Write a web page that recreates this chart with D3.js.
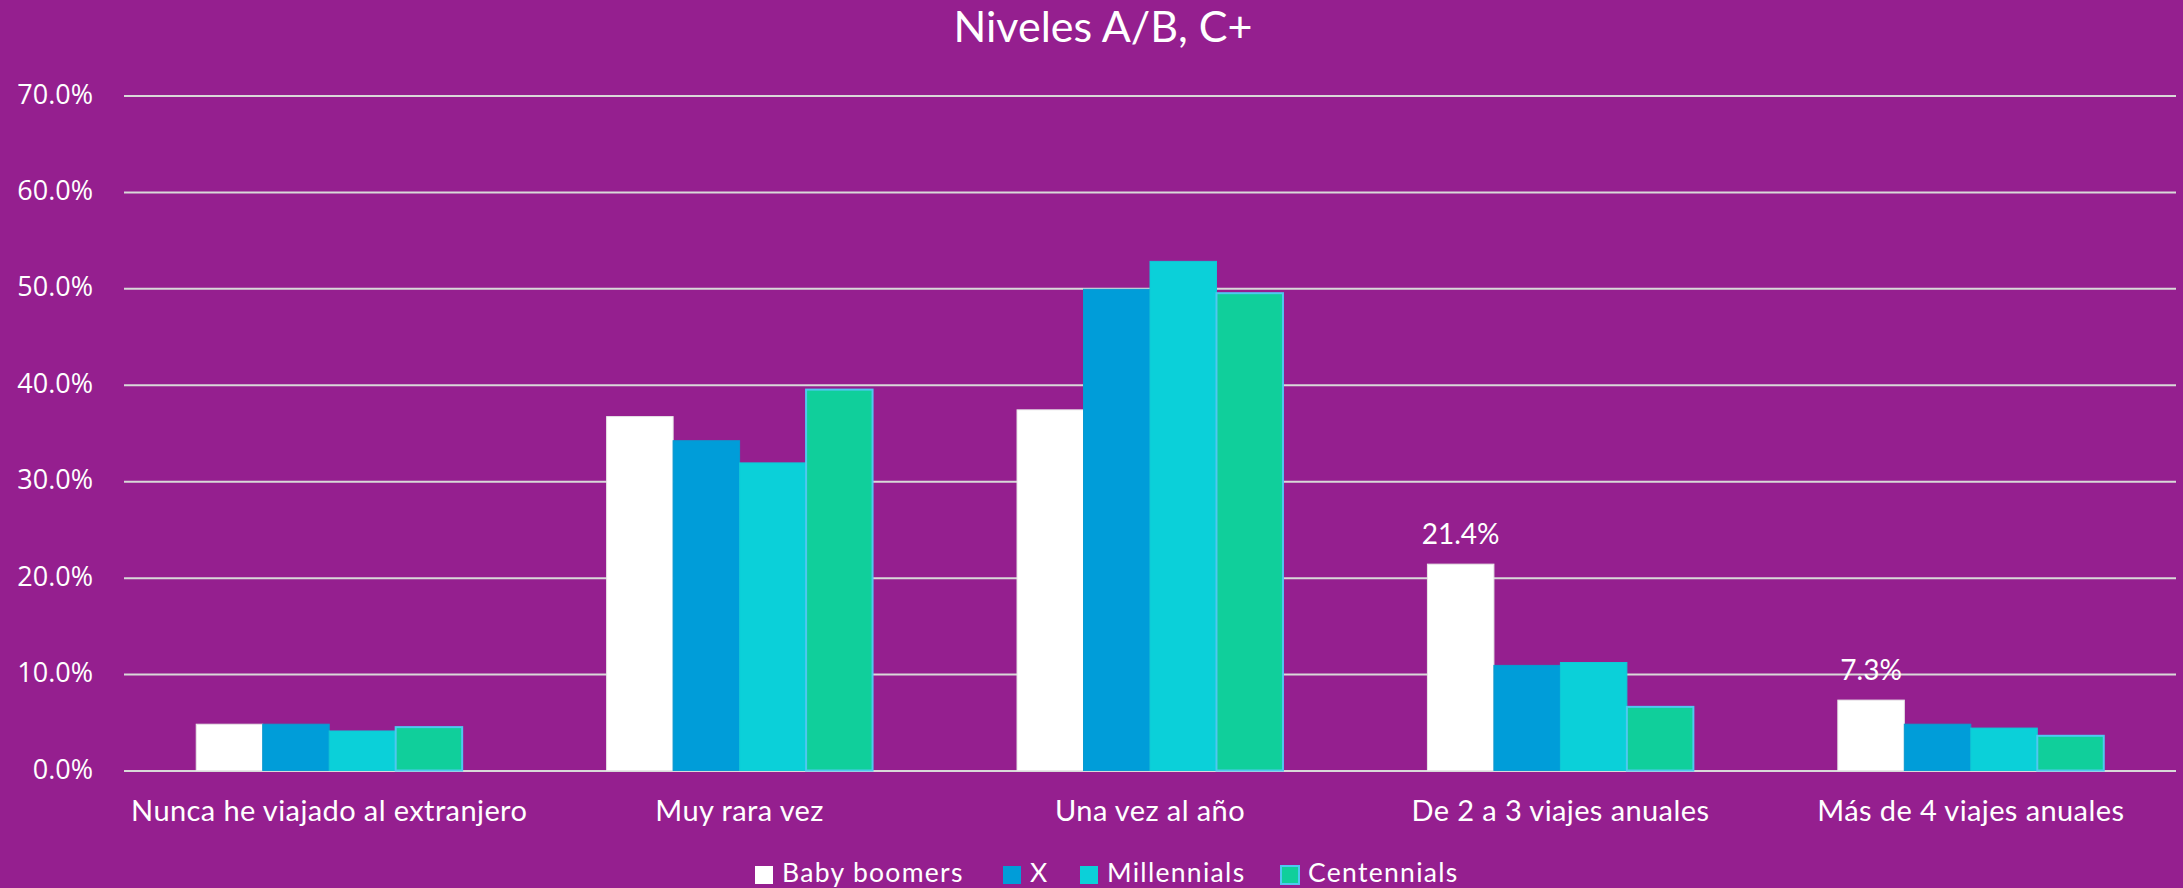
<!DOCTYPE html>
<html>
<head>
<meta charset="utf-8">
<script src="https://cdn.jsdelivr.net/npm/d3@7"></script>
<style>
  html, body { margin: 0; padding: 0; background: #951F8F; }
  svg { display: block; }
</style>
</head>
<body>
<svg id="chart" width="2183" height="888"></svg>
<script>
const title = "Niveles A/B, C+";
const categories = ["Nunca he viajado al extranjero", "Muy rara vez", "Una vez al año", "De 2 a 3 viajes anuales", "Más de 4 viajes anuales"];
const seriesNames = ["Baby boomers", "X", "Millennials", "Centennials"];
const babyBoomers = [4.8, 36.7, 37.4, 21.4, 7.3];
const genX = [4.8, 34.2, 49.9, 10.9, 4.8];
const millennials = [4.1, 31.9, 52.8, 11.2, 4.4];
const centennials = [4.5, 39.5, 49.5, 6.6, 3.6];
const yTicks = [0, 10, 20, 30, 40, 50, 60, 70];
const labelledPoints = [["Baby boomers", "De 2 a 3 viajes anuales"], ["Baby boomers", "Más de 4 viajes anuales"]];

const seriesValues = [babyBoomers, genX, millennials, centennials];
const colors = ["#FFFFFF", "#009DD9", "#0BD0D9", "#10CF9B"];
const strokes = ["#E8E8E8", "#0A9AD0", "#10C8D8", "#4FC8F0"];

const svg = d3.select("#chart");
const W = 2183, H = 888;
const m = { left: 124, right: 2183 - 2176, top: 95.5, bottom: 888 - 770.5 };

svg.append("rect").attr("width", W).attr("height", H).attr("fill", "#951F8F");

const y = d3.scaleLinear().domain([0, 70]).range([770.5, 95.5]);
const x0 = d3.scaleBand().domain(categories).range([m.left, W - m.right]).paddingInner(0.352).paddingOuter(0.176);
const x1 = d3.scaleBand().domain(seriesNames).range([0, x0.bandwidth()]);

// gridlines
const yAxis = d3.axisLeft(y).tickValues(yTicks).tickSize(-(W - m.right - m.left)).tickPadding(31)
  .tickFormat(d => d.toFixed(1) + "%");
const gy = svg.append("g").attr("transform", `translate(${m.left},0)`).call(yAxis);
gy.select(".domain").remove();
gy.selectAll(".tick line").attr("stroke", "#D9D9D9").attr("stroke-width", 2);
gy.selectAll(".tick text").attr("fill", "#FFFFFF").attr("font-family", "'Open Sans', sans-serif")
  .attr("font-size", 27).attr("dy", "0.28em");

// bars
const data = [];
categories.forEach((c, i) => seriesNames.forEach((s, j) => data.push({ c, s, j, v: seriesValues[j][i] })));
svg.append("g").selectAll("rect").data(data).join("rect")
  .attr("x", d => x0(d.c) + x1(d.s))
  .attr("width", x1.bandwidth())
  .attr("y", d => y(d.v))
  .attr("height", d => y(0) - y(d.v))
  .attr("fill", d => colors[d.j])
  .attr("stroke", d => strokes[d.j])
  .attr("stroke-width", d => d.j === 3 ? 2 : 1);

// data labels
svg.append("g").selectAll("text").data(labelledPoints).join("text")
  .attr("x", d => x0(d[1]) + x1(d[0]) + x1.bandwidth() / 2)
  .attr("y", d => y(seriesValues[seriesNames.indexOf(d[0])][categories.indexOf(d[1])]) - 20)
  .attr("text-anchor", "middle")
  .attr("fill", "#FFFFFF").attr("font-family", "Lato, sans-serif").attr("font-size", 28)
  .text(d => seriesValues[seriesNames.indexOf(d[0])][categories.indexOf(d[1])].toFixed(1) + "%");

// x axis labels
const xAxis = d3.axisBottom(x0).tickSize(0).tickPadding(0);
const gx = svg.append("g").attr("transform", `translate(0,${y(0)})`).call(xAxis);
gx.select(".domain").remove();
gx.selectAll(".tick text").attr("fill", "#FFFFFF").attr("font-family", "Lato, sans-serif")
  .attr("font-size", 29).attr("letter-spacing", 0.4).attr("dy", null).attr("y", 50.5);

// title
svg.append("text").attr("x", 1103).attr("y", 42).attr("text-anchor", "middle")
  .attr("fill", "#FFFFFF").attr("font-family", "Lato, sans-serif").attr("font-size", 43).text(title);

// legend
const legendX = [755, 1003, 1080, 1281];
const lg = svg.append("g").selectAll("g").data(seriesNames).join("g")
  .attr("transform", (d, i) => `translate(${legendX[i]},0)`);
lg.append("rect").attr("x", 0).attr("y", 866).attr("width", 18).attr("height", 18)
  .attr("fill", (d, i) => colors[i]).attr("stroke", (d, i) => i === 3 ? "#4FC8F0" : "none").attr("stroke-width", 2);
lg.append("text").attr("x", 27).attr("y", 882).attr("fill", "#FFFFFF")
  .attr("font-family", "Lato, sans-serif").attr("font-size", 26.5).attr("letter-spacing", 1.3).text(d => d);
</script>
</body>
</html>
